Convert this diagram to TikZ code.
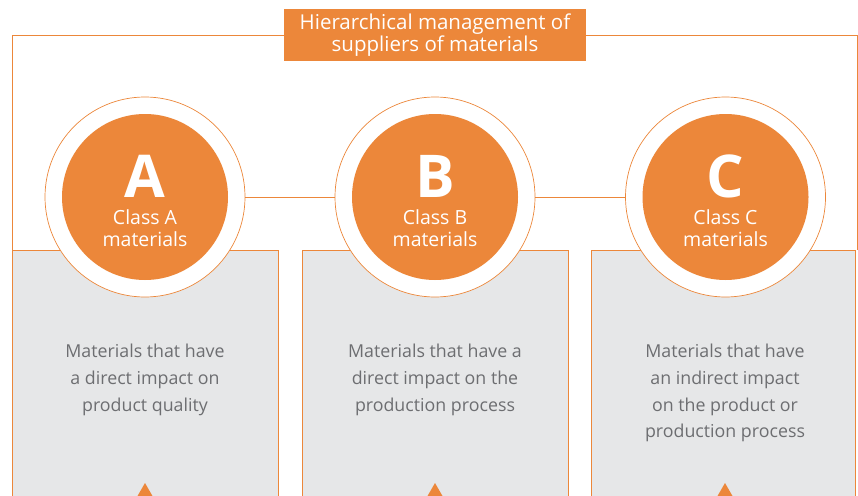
\documentclass[tikz,border=0pt]{standalone}
\usepackage{fontspec}
\setmainfont{Open Sans}
\definecolor{org}{HTML}{EC873A}
\definecolor{boxgray}{HTML}{E6E7E8}
\definecolor{txtgray}{HTML}{6D6E71}
\begin{document}
\begin{tikzpicture}[x=1pt,y=-1pt,
  frameline/.style={draw=org,line width=0.8pt},
  ring/.style={circle,draw=org,line width=0.7pt,fill=white,minimum size=200pt,inner sep=0pt},
  core/.style={circle,fill=org,minimum size=166pt,inner sep=0pt},
  bigletter/.style={text=white,font=\fontsize{59}{59}\selectfont\bfseries,inner sep=0pt},
  classtxt/.style={text=white,align=center,font=\fontsize{19.5}{22}\selectfont,inner sep=0pt},
  desctxt/.style={text=txtgray,align=center,font=\fontsize{17.8}{26.7}\selectfont,inner sep=0pt,anchor=north},
  tri/.style={fill=org}
]
\useasboundingbox (0,0) rectangle (858,495);
% title
\node[fill=org,minimum width=302pt,minimum height=52pt,inner sep=0pt,text=white,align=center,font=\fontsize{20.5}{20}\selectfont] (title) at (435,35) {Hierarchical management of\\suppliers of materials};
% frame
\coordinate (fl) at (12,250);
\coordinate (fr) at (857,250);
\draw[frameline] (fl) -- (12,35) -- (title.west |- 0,35);
\draw[frameline] (title.east |- 0,35) -- (857,35) -- (fr);
% gray boxes
\foreach \l/\r in {12/278, 302/568, 591/855}{
  \fill[boxgray] (\l,250) rectangle (\r,500);
  \draw[frameline] (\l,500) -- (\l,250) -- (\r,250) -- (\r,500);
}
% circles
\node[ring] (ra) at (145,197) {};
\node[ring] (rb) at (435,197) {};
\node[ring] (rc) at (725.5,197) {};
\draw[org,line width=0.8pt] (ra.east) -- (rb.west);
\draw[org,line width=0.8pt] (rb.east) -- (rc.west);
\node[core] (ca) at (ra.center) {};
\node[core] (cb) at (rb.center) {};
\node[core] (cc) at (rc.center) {};
\node[bigletter] (la) at (145,176) {A};
\node[bigletter] (lb) at (435,176) {B};
\node[bigletter] (lc) at (725.5,176) {C};
\node[classtxt] (ta) at (145,228) {Class A\\materials};
\node[classtxt] (tb) at (435,228) {Class B\\materials};
\node[classtxt] (tc) at (725.5,228) {Class C\\materials};
% descriptions
\node[desctxt] (da) at (145,344) {Materials that have\\a direct impact on\\product quality};
\node[desctxt] (db) at (435,344) {Materials that have a\\direct impact on the\\production process};
\node[desctxt] (dc) at (725,344) {Materials that have\\an indirect impact\\on the product or\\production process};
% triangles
\foreach \x in {145,435,725}{
  \fill[org] (\x,483) -- (\x-7.5,496) -- (\x+7.5,496) -- cycle;
}
\end{tikzpicture}
\end{document}
